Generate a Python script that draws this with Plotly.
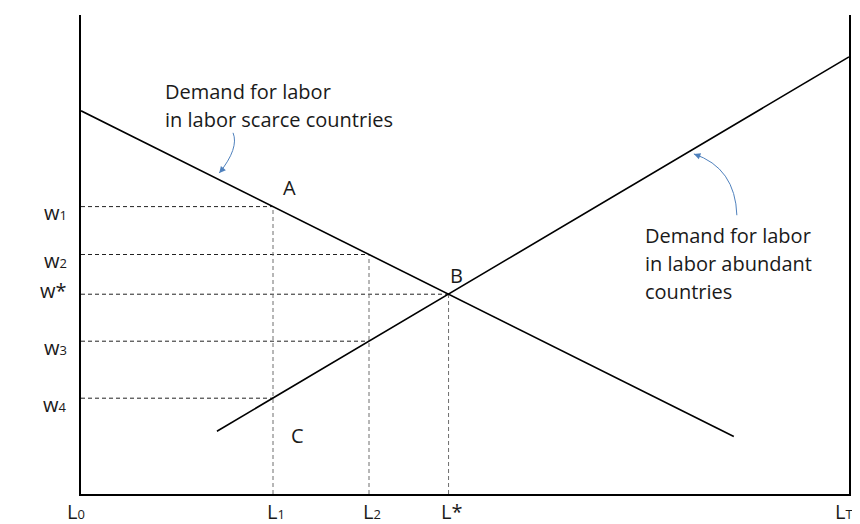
import plotly.graph_objects as go

# Economic units: labor on x (L0 = 0 ... LT = 100), real wage on y
L_T = 100
W_TOP = 100

# demand for labor in labor scarce countries (measured from L0)
scarce_L = [0, 85]
scarce_w = [80, 12]
# demand for labor in labor abundant countries (measured from LT)
abundant_L = [17.7, 100]
abundant_w = [13.1, 91.25]

SUB = "<span style='font-size:13px'>{}</span>"

L_vals = [25, 37.5, 47.86]
L_names = ["L" + SUB.format("1"), "L" + SUB.format("2"), "L*"]
w_vals = [60, 50, 41.71, 31.9, 20]
w_names = ["w" + SUB.format("1"), "w" + SUB.format("2"), "w*",
           "w" + SUB.format("3"), "w" + SUB.format("4")]
w_ends = [25, 37.5, 47.86, 37.5, 25]       # where each dashed wage line stops
w_label_shift = [-6, -6, 4, -6, -6]

FONT = "'Open Sans', Lato, sans-serif"
INK = "#1a1a1a"
BLUE = "#4f81bd"

fig = go.Figure()

# dashed guides
for w, end in zip(w_vals, w_ends):
    fig.add_trace(go.Scatter(x=[0, end], y=[w, w], mode="lines",
                             line=dict(color="#222222", width=1, dash="4px,3px"),
                             hoverinfo="skip", showlegend=False))
for L, w in zip(L_vals, [60, 50, 41.71]):
    fig.add_trace(go.Scatter(x=[L, L], y=[0, w], mode="lines",
                             line=dict(color="#6e6e6e", width=1, dash="4px,3px"),
                             hoverinfo="skip", showlegend=False))

# the two demand curves
fig.add_trace(go.Scatter(x=scarce_L, y=scarce_w, mode="lines",
                         line=dict(color="black", width=1.6),
                         hoverinfo="skip", showlegend=False))
fig.add_trace(go.Scatter(x=abundant_L, y=abundant_w, mode="lines",
                         line=dict(color="black", width=1.6),
                         hoverinfo="skip", showlegend=False))

ann = []
txt = dict(family=FONT, size=20, color=INK)

# axis labels
for w, name, sh in zip(w_vals, w_names, w_label_shift):
    ann.append(dict(x=0, y=w, text=name, showarrow=False, xanchor="right",
                    xshift=-12, yshift=sh, font=txt))
bottom = [(0, "L" + SUB.format("0"), "center", -5)]
bottom += [(L, n, "center", 3) for L, n in zip(L_vals, L_names)]
bottom += [(L_T, "L" + SUB.format("T"), "right", 6)]
for L, name, anchor, dx in bottom:
    ann.append(dict(x=L, y=0, text=name, showarrow=False, yanchor="middle",
                    xanchor=anchor, yshift=-17, xshift=dx, font=txt))
for i, line in enumerate(["Real", "wage"]):
    ann.append(dict(x=-9.2, y=W_TOP, text=line, showarrow=False, xanchor="left",
                    yshift=-18 - 30 * i, font=txt))

# point labels
ann.append(dict(x=L_vals[0], y=w_vals[0], text="A", showarrow=False,
                xshift=16, yshift=19, font=txt))
ann.append(dict(x=L_vals[2], y=w_vals[2], text="B", showarrow=False,
                xshift=8, yshift=19, font=txt))
ann.append(dict(x=L_vals[0], y=w_vals[4], text="C", showarrow=False,
                xshift=24, yshift=-37, font=txt))

# curve descriptions
for i, line in enumerate(["Demand for labor", "in labor scarce countries"]):
    ann.append(dict(x=10.7, y=81.2, text=line, showarrow=False, xanchor="left",
                    yshift=14 - 28 * i, font=txt))
for i, line in enumerate(["Demand for labor", "in labor abundant", "countries"]):
    ann.append(dict(x=73.2, y=48.2, text=line, showarrow=False, xanchor="left",
                    yshift=28 - 28 * i, font=txt))

# curved pointer arrows: body as bezier path, head as tiny annotation arrow
fig.add_shape(type="path", path="M 19.8,75.4 Q 20.6,72.2 18.0,67.0",
              line=dict(color=BLUE, width=1))
fig.add_shape(type="path", path="M 85.4,58.2 Q 85.2,68.1 79.8,71.0",
              line=dict(color=BLUE, width=1))
ann.append(dict(x=18.0, y=67.0, ax=5, ay=-6, text="", showarrow=True,
                arrowhead=2, arrowsize=1.3, arrowwidth=1, arrowcolor=BLUE))
ann.append(dict(x=79.8, y=71.0, ax=8, ay=3, text="", showarrow=True,
                arrowhead=2, arrowsize=1.3, arrowwidth=1, arrowcolor=BLUE))

# the page body keeps its default 8px margin, so the figure is sized to fit inside
fig.update_layout(
    width=852, height=516,
    margin=dict(l=73, r=11, t=7, b=30),
    paper_bgcolor="white", plot_bgcolor="white",
    annotations=ann,
    xaxis=dict(range=[0, L_T], showgrid=False, zeroline=False, showticklabels=False,
               showline=True, linecolor="black", linewidth=2),
    yaxis=dict(range=[0, W_TOP], showgrid=False, zeroline=False, showticklabels=False,
               showline=True, mirror=True, linecolor="black", linewidth=2),
)

fig.write_html("out.html")
